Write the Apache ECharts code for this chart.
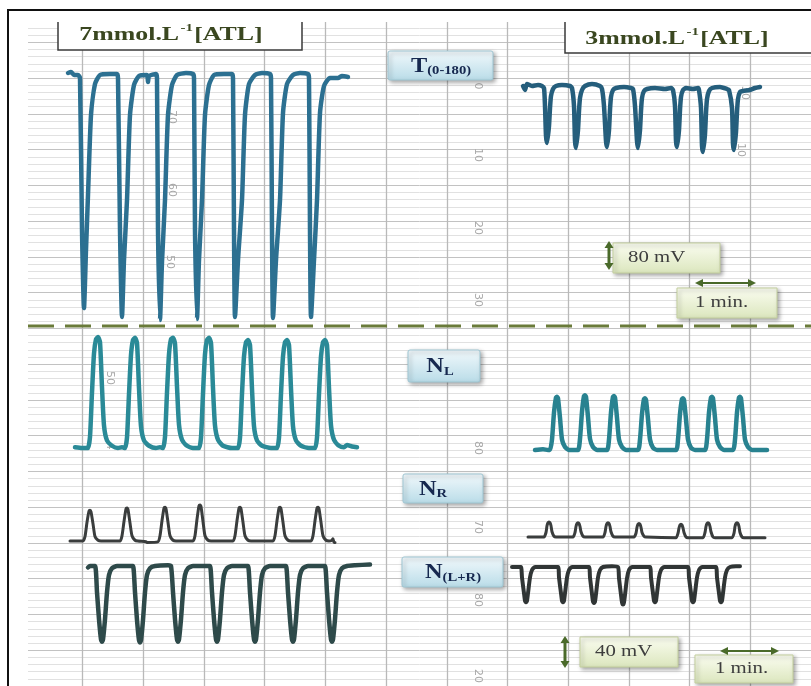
<!DOCTYPE html>
<html><head><meta charset="utf-8">
<script src="https://cdn.jsdelivr.net/npm/echarts@6/dist/echarts.min.js"></script>
<style>html,body{margin:0;padding:0;background:#fff}#c{width:811px;height:686px}</style>
</head><body><div id="c"></div>
<script>
// ---------- DATA (time in s, amplitude in mV) ----------
const panelTitles = ['7mmol.L', '3mmol.L'];
const traceLabels = ['T', 'N', 'N', 'N'];
const traceSubs = ['(0-180)', 'L', 'R', '(L+R)'];
const scaleLabels = ['80 mV', '1 min.', '40 mV', '1 min.'];

// T(0-180), 7 mmol/L
const T_7mM = [[2,3],[5,6],[8,-3],[12,-3],
[14,-12],[16,-468],[18,-702],[20,-528],[22,-363],[25,-123],[29,-30],[34,-3],[44,0],[51,0],
[52,-12],[54,-468],[56,-729],[58,-558],[61,-378],[64,-123],[68,-33],[73,-6],[81,-3],[82,-24],[83,-6],[90,0],
[91,-12],[92,-468],[94,-738],[96,-564],[99,-378],[102,-123],[106,-33],[111,-3],[120,3],[127,0],
[128,-12],[129,-468],[131,-735],[133,-558],[136,-378],[139,-123],[143,-33],[148,-3],[158,0],[166,0],
[167,-12],[168,-468],[169,-729],[172,-558],[176,-378],[179,-123],[183,-30],[189,-3],[196,3],[204,0],
[205,-12],[206,-468],[207,-732],[210,-558],[214,-378],[217,-117],[221,-30],[227,-3],[234,3],[242,0],
[243,-12],[244,-468],[245,-729],[248,-558],[251,-378],[254,-117],[258,-36],[264,-12],[272,-12],[276,-6],[282,-9]];

// T(0-180), 3 mmol/L
const T_3mM = [[3,0],[5,-12],[7,6],[12,0],[18,3],[22,0],
[24,-6],[25,-60],[26,-150],[27,-171],[29,-120],[30,-66],[31,-30],[33,-9],[36,0],[42,3],[50,0],
[52,-6],[54,-60],[55,-165],[56,-186],[58,-132],[59,-75],[60,-36],[62,-12],[65,0],[72,6],[80,0],
[82,-9],[84,-60],[86,-165],[87,-183],[89,-132],[90,-72],[91,-33],[93,-12],[96,-6],[104,-3],[111,-6],
[113,-9],[115,-60],[117,-165],[118,-186],[120,-132],[121,-75],[122,-36],[124,-15],[127,-9],[135,-6],[145,-9],[151,-6],
[153,-12],[155,-60],[156,-165],[157,-183],[159,-132],[160,-72],[161,-33],[163,-12],[166,-6],[173,-9],[178,-6],
[179,-12],[181,-66],[182,-180],[183,-198],[185,-144],[186,-81],[187,-39],[189,-15],[192,-6],[200,-3],[207,-9],
[209,-12],[212,-66],[213,-174],[214,-192],[216,-138],[217,-78],[218,-39],[220,-18],[223,-15],[230,-12],[235,-6],[240,-3]];

// N_L, 7 mmol/L
const NL_7mM = [[3,1],[10,0],[14,0],
[16,0],[18,15],[20,74],[22,126],[24,145],[26,148],[28,141],[30,81],[32,30],[35,10],[40,3],[46,0],[50,1],
[53,0],[55,14],[57,72],[59,124],[61,144],[63,147],[65,140],[67,80],[69,29],[72,10],[77,3],[84,0],[88,1],
[91,0],[93,15],[95,74],[97,125],[99,145],[101,147],[103,139],[105,82],[107,31],[110,11],[115,3],[121,0],
[127,0],[129,14],[131,73],[133,125],[135,144],[137,147],[139,140],[141,80],[143,30],[146,11],[151,3],[160,0],
[166,0],[168,14],[170,72],[172,122],[174,141],[176,144],[178,137],[180,79],[182,29],[185,10],[190,3],[199,0],
[205,0],[207,14],[209,72],[211,122],[213,141],[215,144],[217,137],[219,79],[221,29],[224,10],[229,3],[237,0],
[243,0],[245,14],[247,72],[249,122],[251,141],[253,144],[255,137],[257,80],[259,30],[262,11],[267,3],[272,1],[275,4],[280,2],[285,1]];

// N_R, 7 mmol/L
const NR_7mM = [[0,0],[8,0],
[13,0],[15,6],[17,25],[19,40],[20,41],[21,39],[23,23],[25,6],[28,1],[31,0],
[50,0],[52,7],[54,26],[56,43],[57,44],[58,42],[60,24],[62,7],[65,1],[68,0],[76,-1],
[77,-2],[88,-1],[90,7],[92,27],[94,44],[95,45],[96,43],[98,25],[100,7],[103,1],[106,0],
[123,0],[125,7],[127,29],[129,47],[130,48],[131,46],[133,26],[135,7],[138,1],[141,0],
[163,0],[165,7],[167,27],[169,44],[170,45],[171,43],[173,25],[175,7],[178,1],[181,0],
[203,0],[205,7],[207,27],[209,44],[210,45],[211,43],[213,25],[215,7],[218,1],[221,0],
[241,0],[243,7],[245,27],[247,44],[248,45],[249,43],[251,25],[253,7],[256,1],[259,0],[262,1],[263,3],[264,-2],[265,-2]];

// N(L+R), 7 mmol/L
const NLR_7mM = [[3,-2],[5,0],
[10,0],[12,-35],[14,-71],[16,-98],[17,-101],[18,-98],[20,-71],[22,-35],[24,-12],[27,-3],[32,0],[45,0],
[48,0],[50,-35],[52,-72],[54,-99],[55,-102],[56,-99],[58,-72],[60,-35],[62,-12],[65,-3],[70,0],[83,1],
[86,0],[88,-35],[90,-71],[92,-98],[93,-101],[94,-98],[96,-71],[98,-35],[100,-12],[103,-3],[108,0],[122,0],
[125,0],[127,-35],[129,-71],[131,-98],[132,-101],[133,-98],[135,-71],[137,-35],[139,-12],[142,-3],[147,0],[160,0],
[163,0],[165,-35],[167,-71],[169,-98],[170,-101],[171,-98],[173,-71],[175,-35],[177,-12],[180,-3],[185,0],[198,0],
[201,0],[203,-35],[205,-71],[207,-98],[208,-101],[209,-98],[211,-71],[213,-35],[215,-12],[218,-3],[223,0],[237,0],
[240,0],[242,-35],[244,-71],[246,-98],[247,-101],[248,-98],[250,-71],[252,-35],[254,-12],[257,-3],[262,0],[270,1],[285,2]];

// N_L, 3 mmol/L
const NL_3mM = [[2,0],[10,1],[15,0],
[17,0],[19,14],[21,50],[23,70],[24,71],[25,69],[27,43],[29,14],[32,4],[36,0],
[45,0],[47,15],[49,51],[51,72],[52,73],[53,71],[55,44],[57,15],[60,4],[64,0],
[74,0],[76,14],[78,50],[80,71],[81,72],[82,70],[84,43],[86,14],[89,4],[93,0],
[105,0],[107,14],[109,48],[111,68],[112,69],[113,67],[115,41],[117,14],[120,3],[124,0],
[143,0],[145,14],[147,48],[149,68],[150,69],[151,67],[153,41],[155,14],[158,3],[162,0],
[172,0],[174,14],[176,50],[178,70],[179,71],[180,69],[182,43],[184,14],[187,4],[191,0],
[200,0],[202,14],[204,50],[206,70],[207,71],[208,69],[210,43],[212,14],[215,4],[219,0],[234,0]];

// N_R, 3 mmol/L
const NR_3mM = [[2,0],[10,0],
[18,0],[20,6],[21,15],[22,19],[23,20],[24,19],[25,15],[26,7],[28,1],[30,0],
[47,0],[49,6],[50,14],[51,18],[52,19],[53,18],[54,14],[55,7],[57,1],[59,0],
[77,0],[79,6],[80,14],[81,18],[82,19],[83,18],[84,14],[85,7],[87,1],[89,0],
[108,0],[110,5],[111,13],[112,17],[113,18],[114,17],[115,13],[116,6],[118,1],[120,0],
[150,-1],[152,5],[153,12],[154,16],[155,17],[156,16],[157,12],[158,6],[160,0],[162,-1],
[177,-1],[179,6],[180,14],[181,18],[182,19],[183,18],[184,14],[185,7],[187,0],[189,-1],
[206,-1],[208,5],[209,14],[210,18],[211,19],[212,18],[213,14],[214,6],[216,0],[218,-1],[239,-1]];

// N(L+R), 3 mmol/L
const NLR_3mM = [[2,0],[8,0],
[11,0],[12,-14],[14,-35],[15,-45],[16,-47],[17,-45],[18,-35],[20,-14],[22,-4],[25,0],[40,0],
[48,0],[49,-14],[51,-35],[52,-45],[53,-47],[54,-45],[55,-35],[57,-14],[59,-4],[62,0],[73,0],
[79,0],[80,-14],[82,-36],[83,-46],[84,-48],[85,-46],[86,-36],[88,-14],[90,-4],[93,0],[102,1],
[108,0],[109,-15],[111,-37],[112,-47],[113,-50],[114,-47],[115,-37],[117,-15],[119,-4],[122,0],[134,0],
[140,0],[141,-14],[143,-35],[144,-45],[145,-47],[146,-45],[147,-35],[149,-14],[151,-4],[154,0],[172,0],
[178,0],[179,-14],[181,-35],[182,-45],[183,-47],[184,-45],[185,-35],[187,-14],[189,-4],[192,0],[200,0],
[206,0],[207,-14],[209,-35],[210,-45],[211,-47],[212,-45],[213,-35],[215,-14],[217,-4],[220,0],[226,1],[230,1]];

// ---------- LAYOUT ----------
const chart = echarts.init(document.getElementById('c'), null, {renderer: 'canvas'});
const grids = [], xAxes = [], yAxes = [], series = [];

// paper: horizontal rulings
grids.push({left: 28, right: 0, top: 6.6, height: 697.3, show: false});
xAxes.push({gridIndex: 0, type: 'value', min: 0, max: 1, show: false});
yAxes.push({gridIndex: 0, type: 'value', min: 0, max: 95, interval: 5, inverse: true,
  axisLine: {show: false}, axisTick: {show: false}, axisLabel: {show: false},
  minorTick: {show: false, splitNumber: 5},
  splitLine: {show: true, showMinLine: false, lineStyle: {color: '#c2c2c2', width: 1}},
  minorSplitLine: {show: true, lineStyle: {color: '#e1e1e1', width: 1}}});
// paper: vertical rulings (1 min)
grids.push({left: 21.9, top: 22, width: 794.3, height: 664, show: false});
xAxes.push({gridIndex: 1, type: 'value', min: 0, max: 13, interval: 1,
  axisLine: {show: false}, axisTick: {show: false}, axisLabel: {show: false},
  splitLine: {show: true, showMinLine: false, showMaxLine: false, lineStyle: {color: '#b9b9b9', width: 1.3}}});
yAxes.push({gridIndex: 1, type: 'value', min: 0, max: 1, show: false});

function addTrace(data, L, color, width) {
  const gi = grids.length;
  grids.push({left: L.x0, top: L.y0 - L.ymax / L.k, width: L.xmax, height: (L.ymax - L.ymin) / L.k, show: false});
  xAxes.push({gridIndex: gi, type: 'value', min: 0, max: L.xmax, show: false});
  yAxes.push({gridIndex: gi, type: 'value', min: L.ymin, max: L.ymax, show: false});
  series.push({type: 'line', xAxisIndex: gi, yAxisIndex: gi, data: data, symbol: 'none',
    smooth: 0.2, clip: false, silent: true, z: 5,
    lineStyle: {color: color, width: width, join: 'round', cap: 'round'}});
}
const kTop = 3, kBot = 4 / 3; // mV per pixel (80 mV bar / 40 mV bar)
addTrace(T_7mM,  {x0: 66,  y0: 74,  xmax: 290, ymin: -760, ymax: 30,  k: kTop}, '#2c7091', 4.5);
addTrace(T_3mM,  {x0: 520, y0: 86,  xmax: 245, ymin: -210, ymax: 30,  k: kTop}, '#255e7c', 4.5);
addTrace(NL_7mM, {x0: 72,  y0: 448, xmax: 290, ymin: -10,  ymax: 160, k: kBot}, '#2a8a97', 4.5);
addTrace(NR_7mM, {x0: 70,  y0: 541, xmax: 270, ymin: -10,  ymax: 55,  k: kBot}, '#3a3d3d', 3);
addTrace(NLR_7mM,{x0: 85,  y0: 566, xmax: 290, ymin: -110, ymax: 10,  k: kBot}, '#2e4a4a', 4.5);
addTrace(NL_3mM, {x0: 533, y0: 450, xmax: 240, ymin: -10,  ymax: 80,  k: kBot}, '#288290', 4.5);
addTrace(NR_3mM, {x0: 526, y0: 537, xmax: 245, ymin: -10,  ymax: 25,  k: kBot}, '#3a3d3d', 3);
addTrace(NLR_3mM,{x0: 510, y0: 567, xmax: 235, ymin: -55,  ymax: 10,  k: kBot}, '#303535', 4);

// ---------- DECORATION ----------
const serif = '"Liberation Serif", "DejaVu Serif", serif';
const blueFill = {type: 'linear', x: 0, y: 0, x2: 0, y2: 1, colorStops: [{offset: 0, color: '#f2f9fc'}, {offset: 1, color: '#b9dce8'}]};
const greenFill = {type: 'linear', x: 0, y: 0, x2: 0, y2: 1, colorStops: [{offset: 0, color: '#fbfdf1'}, {offset: 1, color: '#dbe6bd'}]};
const shadow = {shadowBlur: 4, shadowColor: 'rgba(0,0,0,0.35)', shadowOffsetX: 2, shadowOffsetY: 2};
const g = [];
// white band above paper
g.push({type: 'rect', shape: {x: 9, y: 10, width: 802, height: 12}, style: {fill: '#fff'}, z: 1});
// frame
g.push({type: 'polyline', shape: {points: [[8, 686], [8, 10], [811, 10]]}, style: {stroke: '#111', lineWidth: 2, fill: null}, z: 120});
// dashed separator
g.push({type: 'line', shape: {x1: 28, y1: 326, x2: 811, y2: 326}, style: {stroke: '#6a7b3a', lineWidth: 3, lineDash: [26, 11]}, z: 20});

// title boxes
function titleBox(x, w, h, tx, ty, text) {
  g.push({type: 'rect', shape: {x: x, y: 11, width: w, height: h}, style: {fill: '#fff'}, z: 30});
  g.push({type: 'polyline', shape: {points: [[x, 22], [x, 11 + h], [x + w, 11 + h], [x + w, 22]]}, style: {stroke: '#3a3a3a', lineWidth: 1.5, fill: null}, z: 31});
  g.push({type: 'text', x: tx, y: ty, scaleX: 1.36, z: 32, style: {
    text: '{m|' + text + '}{sup|-1}{m|[ATL]}', align: 'center', verticalAlign: 'middle',
    rich: {m: {fontFamily: serif, fontWeight: 'bold', fontSize: 19, fill: '#3a4720', lineHeight: 22, verticalAlign: 'bottom'},
           sup: {fontFamily: serif, fontWeight: 'bold', fontSize: 11, fill: '#3a4720', lineHeight: 22, verticalAlign: 'top', padding: [0, 1, 8, 1]}}}});
}
titleBox(58, 244, 39, 171, 34, panelTitles[0]);
titleBox(565, 250, 42, 677, 38, panelTitles[1]);

// trace label boxes
function labelBox(x, y, w, h, tx, main, sub) {
  g.push({type: 'rect', shape: {x: x, y: y, width: w, height: h, r: 2}, style: Object.assign({fill: blueFill, stroke: '#9fc6d3', lineWidth: 1}, shadow), z: 40});
  g.push({type: 'text', x: tx, y: y + h / 2 + 1, scaleX: 1.22, z: 41, style: {
    text: '{b|' + main + '}{s|' + sub + '}', align: 'center', verticalAlign: 'middle',
    rich: {b: {fontFamily: serif, fontWeight: 'bold', fontSize: 20, fill: '#16284f', lineHeight: 24},
           s: {fontFamily: serif, fontWeight: 'bold', fontSize: 12, fill: '#16284f', lineHeight: 24, padding: [9, 0, 0, 0]}}}});
}
labelBox(388, 51, 105, 29, 441, traceLabels[0], traceSubs[0]);
labelBox(408, 350, 72, 32, 440, traceLabels[1], traceSubs[1]);
labelBox(403, 474, 80, 29, 433, traceLabels[2], traceSubs[2]);
labelBox(402, 557, 101, 30, 453, traceLabels[3], traceSubs[3]);

// scale boxes and arrows
function scaleBox(x, y, w, h, tx, text) {
  g.push({type: 'rect', shape: {x: x, y: y, width: w, height: h}, style: Object.assign({fill: greenFill, stroke: '#c3cf9d', lineWidth: 1}, shadow), z: 40});
  g.push({type: 'text', x: tx, y: y + h / 2, scaleX: 1.3, z: 41, style: {text: text, fontFamily: serif, fontSize: 16, fill: '#3d3d3d', align: 'left', verticalAlign: 'middle'}});
}
const arrowC = '#4a6a2a';
function vArrow(x, y1, y2) {
  g.push({type: 'line', shape: {x1: x, y1: y1 + 4, x2: x, y2: y2 - 4}, style: {stroke: arrowC, lineWidth: 3}, z: 42});
  g.push({type: 'polygon', shape: {points: [[x - 4.5, y1 + 7], [x + 4.5, y1 + 7], [x, y1]]}, style: {fill: arrowC}, z: 42});
  g.push({type: 'polygon', shape: {points: [[x - 4.5, y2 - 7], [x + 4.5, y2 - 7], [x, y2]]}, style: {fill: arrowC}, z: 42});
}
function hArrow(y, x1, x2) {
  g.push({type: 'line', shape: {x1: x1 + 4, y1: y, x2: x2 - 4, y2: y}, style: {stroke: arrowC, lineWidth: 2}, z: 42});
  g.push({type: 'polygon', shape: {points: [[x1 + 8, y - 4], [x1 + 8, y + 4], [x1, y]]}, style: {fill: arrowC}, z: 42});
  g.push({type: 'polygon', shape: {points: [[x2 - 8, y - 4], [x2 - 8, y + 4], [x2, y]]}, style: {fill: arrowC}, z: 42});
}
scaleBox(613, 243, 107, 30, 628, scaleLabels[0]);
vArrow(609, 241, 270);
scaleBox(677, 288, 100, 30, 695, scaleLabels[1]);
hArrow(283, 695, 756);
scaleBox(580, 637, 98, 30, 595, scaleLabels[2]);
vArrow(565, 636, 668);
scaleBox(695, 655, 98, 28, 715, scaleLabels[3]);
hArrow(651, 720, 779);

// faint chart-paper numerals
const paperNums = [[478, 86, '0'], [478, 155, '10'], [478, 228, '20'], [478, 300, '30'],
  [172, 117, '70'], [172, 190, '60'], [170, 262, '50'], [745, 93, '30'], [741, 150, '10'],
  [110, 378, '50'], [110, 446, '4'], [478, 448, '80'], [478, 527, '70'], [478, 600, '80'], [478, 676, '20']];
paperNums.forEach(function (p) {
  g.push({type: 'text', x: p[0], y: p[1], rotation: -Math.PI / 2, z: 3,
    style: {text: p[2], fontFamily: 'DejaVu Sans', fontSize: 11, fill: '#a8a8a8', align: 'center', verticalAlign: 'middle'}});
});

chart.setOption({
  animation: false,
  backgroundColor: '#ffffff',
  grid: grids, xAxis: xAxes, yAxis: yAxes, series: series,
  graphic: {elements: g}
});
</script></body></html>
